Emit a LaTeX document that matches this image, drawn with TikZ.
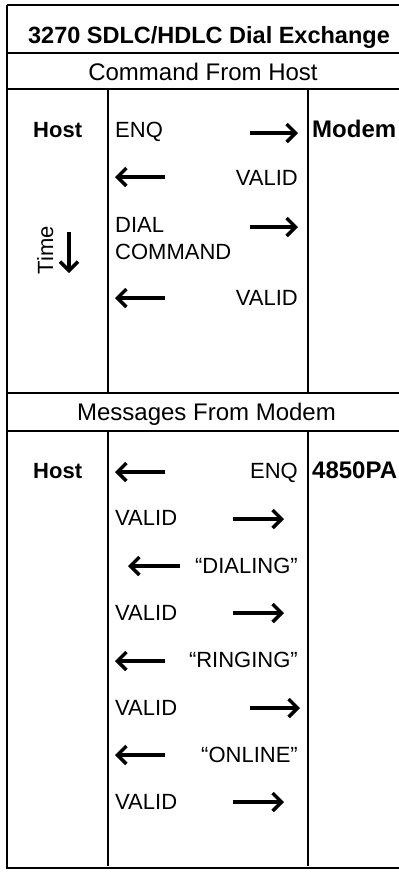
\documentclass[tikz,border=0pt]{standalone}
\usepackage{fontspec}
\setmainfont{Liberation Sans}
\usetikzlibrary{arrows.meta}
\begin{document}
\begin{tikzpicture}[x=1pt,y=-1pt]
\tikzset{
  lbl/.style={inner sep=0pt, font=\fontsize{22}{24}\selectfont},
  blbl/.style={inner sep=0pt, font=\fontsize{22}{24}\selectfont\bfseries},
  band/.style={inner sep=0pt, font=\fontsize{24}{26}\selectfont},
  msg/.style={line width=3.5pt, -{Straight Barb[length=9pt,width=18pt,line width=3.5pt]}},
  frameline/.style={line width=2pt},
}
\useasboundingbox (0,0) rectangle (399,873);
\clip (0,0) rectangle (399,873);
% frame
\draw[frameline] (7,5) -- (410,5);
\draw[frameline] (7,5) -- (7,868) -- (410,868);
\draw[frameline] (7,53) -- (410,53);
\draw[frameline] (7,89) -- (410,89);
\draw[frameline] (7,393) -- (410,393);
\draw[frameline] (7,431) -- (410,431);
\draw[frameline] (108,89) -- (108,393);
\draw[frameline] (308,89) -- (308,393);
\draw[frameline] (108,431) -- (108,866);
\draw[frameline] (308,431) -- (308,866);
% headings
\node[inner sep=0pt, font=\fontsize{23.5}{26}\selectfont\bfseries, anchor=base] (title) at (209,43) {3270 SDLC/HDLC Dial Exchange};
\node[band, anchor=base] (cmd) at (203,80) {Command From Host};
\node[band, anchor=base] (msgs) at (206.5,420) {Messages From Modem};
% upper section
\node[blbl, anchor=base west] (host1) at (33,137) {Host};
\node[blbl, anchor=base west, font=\fontsize{24}{26}\selectfont\bfseries] (modem) at (312,137) {Modem};
\node[lbl, anchor=base west] (enq1) at (115,137) {ENQ};
\coordinate (a1s) at (250,133); \coordinate (a1e) at (298,133);
\draw[msg] (a1s) -- (a1e);
\node[lbl, anchor=base east] (v1) at (298,185) {VALID};
\coordinate (a2s) at (165,177); \coordinate (a2e) at (115,177);
\draw[msg] (a2s) -- (a2e);
\node[lbl, anchor=base west] (dial) at (115,232) {DIAL};
\node[lbl, anchor=base west] (command) at (115,259) {COMMAND};
\coordinate (a3s) at (250,227); \coordinate (a3e) at (298,227);
\draw[msg] (a3s) -- (a3e);
\node[lbl, anchor=base east] (v2) at (298,305) {VALID};
\coordinate (a4s) at (165,298); \coordinate (a4e) at (115,298);
\draw[msg] (a4s) -- (a4e);
% time
\node[inner sep=0pt, font=\fontsize{22}{24}\selectfont, rotate=90, anchor=base] (time) at (53,250) {Time};
\coordinate (ts) at (69,232); \coordinate (te) at (69,273);
\draw[msg] (ts) -- (te);
% lower section
\node[blbl, anchor=base west] (host2) at (33,478) {Host};
\node[blbl, anchor=base west, font=\fontsize{24}{26}\selectfont\bfseries] (pa) at (312,478) {4850PA};
\node[lbl, anchor=base east] (enq2) at (298,478) {ENQ};
\coordinate (b1s) at (165,472); \coordinate (b1e) at (115,472);
\draw[msg] (b1s) -- (b1e);
\node[lbl, anchor=base west] (v3) at (115,525) {VALID};
\coordinate (b2s) at (233,519); \coordinate (b2e) at (284,519);
\draw[msg] (b2s) -- (b2e);
\node[lbl, anchor=base east] (dialing) at (298,573) {``DIALING''};
\coordinate (b3s) at (180,566); \coordinate (b3e) at (128,566);
\draw[msg] (b3s) -- (b3e);
\node[lbl, anchor=base west] (v4) at (115,620) {VALID};
\coordinate (b4s) at (233,613); \coordinate (b4e) at (284,613);
\draw[msg] (b4s) -- (b4e);
\node[lbl, anchor=base east] (ringing) at (298,667) {``RINGING''};
\coordinate (b5s) at (165,661); \coordinate (b5e) at (115,661);
\draw[msg] (b5s) -- (b5e);
\node[lbl, anchor=base west] (v5) at (115,715) {VALID};
\coordinate (b6s) at (250,708); \coordinate (b6e) at (300,708);
\draw[msg] (b6s) -- (b6e);
\node[lbl, anchor=base east] (online) at (298,762) {``ONLINE''};
\coordinate (b7s) at (165,755); \coordinate (b7e) at (115,755);
\draw[msg] (b7s) -- (b7e);
\node[lbl, anchor=base west] (v6) at (115,809) {VALID};
\coordinate (b8s) at (233,802); \coordinate (b8e) at (284,802);
\draw[msg] (b8s) -- (b8e);
\end{tikzpicture}
\end{document}
